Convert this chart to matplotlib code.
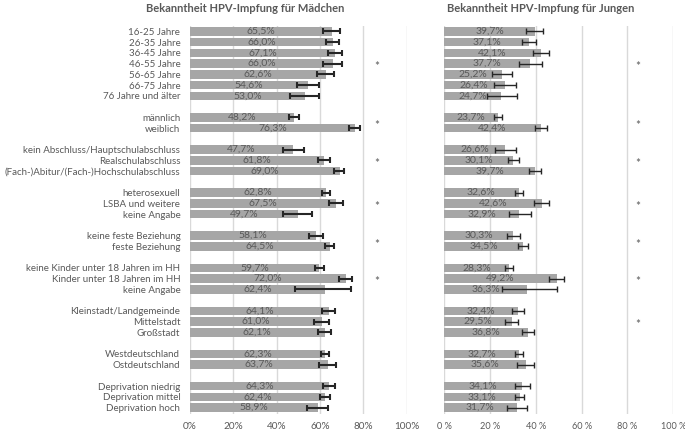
import matplotlib
matplotlib.use("Agg")
import matplotlib.pyplot as plt
import numpy as np

categories = [
    "16-25 Jahre", "26-35 Jahre", "36-45 Jahre", "46-55 Jahre", "56-65 Jahre", "66-75 Jahre", "76 Jahre und älter",
    "männlich", "weiblich",
    "kein Abschluss/Hauptschulabschluss", "Realschulabschluss", "(Fach-)Abitur/(Fach-)Hochschulabschluss",
    "heterosexuell", "LSBA und weitere", "keine Angabe",
    "keine feste Beziehung", "feste Beziehung",
    "keine Kinder unter 18 Jahren im HH", "Kinder unter 18 Jahren im HH", "keine Angabe",
    "Kleinstadt/Landgemeinde", "Mittelstadt", "Großstadt",
    "Westdeutschland", "Ostdeutschland",
    "Deprivation niedrig", "Deprivation mittel", "Deprivation hoch",
]
group_sizes = [7, 2, 3, 3, 2, 3, 3, 2, 3]

girls = [65.5, 66.0, 67.1, 66.0, 62.6, 54.6, 53.0,
         48.2, 76.3,
         47.7, 61.8, 69.0,
         62.8, 67.5, 49.7,
         58.1, 64.5,
         59.7, 72.0, 62.4,
         64.1, 61.0, 62.1,
         62.3, 63.7,
         64.3, 62.4, 58.9]
girls_lo = [61.5, 62.6, 63.8, 61.2, 58.5, 49.2, 46.1,
            45.7, 73.5,
            42.8, 59.2, 66.3,
            60.8, 64.3, 42.8,
            54.8, 62.3,
            57.5, 68.6, 48.5,
            61.1, 57.4, 59.2,
            60.3, 59.7,
            61.2, 60.0, 54.0]
girls_hi = [69.2, 68.9, 70.1, 70.3, 66.4, 59.7, 59.7,
            50.5, 78.6,
            52.6, 64.4, 71.2,
            64.6, 70.6, 56.3,
            61.2, 66.3,
            61.7, 74.9, 74.3,
            66.9, 64.3, 64.9,
            64.3, 67.5,
            67.1, 64.6, 63.5]

boys = [39.7, 37.1, 42.1, 37.7, 25.2, 26.4, 24.7,
        23.7, 42.4,
        26.6, 30.1, 39.7,
        32.6, 42.6, 32.9,
        30.3, 34.5,
        28.3, 49.2, 36.3,
        32.4, 29.5, 36.8,
        32.7, 35.6,
        34.1, 33.1, 31.7]
boys_lo = [35.9, 33.9, 38.6, 32.9, 21.1, 22.0, 18.9,
           21.8, 39.9,
           22.4, 27.7, 37.1,
           31.0, 39.4, 28.5,
           27.4, 32.4,
           26.6, 45.7, 25.2,
           29.8, 26.5, 33.9,
           30.9, 32.0,
           31.1, 30.9, 27.5]
boys_hi = [43.2, 40.3, 45.6, 42.6, 29.7, 31.4, 31.7,
           25.3, 45.1,
           31.4, 32.6, 42.4,
           34.4, 45.7, 37.8,
           33.3, 36.5,
           30.3, 52.5, 49.2,
           35.1, 32.4, 39.4,
           34.6, 39.4,
           37.3, 35.1, 36.1]

# significance markers: row position (fractional = between two rows of a group)
girls_sig = [3, 8.5, 12, 16, 19.5, 23]
boys_sig = [3, 8.5, 12, 16, 19.5, 23, 27]

titles = ["Bekanntheit HPV-Impfung für Mädchen", "Bekanntheit HPV-Impfung für Jungen"]
xticks = [0, 20, 40, 60, 80, 100]
xticklabels_left = ["0%", "20%", "40%", "60%", "80%", "100%"]
xticklabels_right = ["0 %", "20 %", "40 %", "60 %", "80 %", "100 %"]

# row positions with a blank row between groups
ypos = []
r = 0
for g in group_sizes:
    for i in range(g):
        ypos.append(r)
        r += 1
    r += 1
ypos = np.array(ypos)

W, H = 685, 430
fig = plt.figure(figsize=(W / 100, H / 100), dpi=100)
FONT = "Lato"
txt = "#595959"
barc = "#a6a6a6"
gridc = "#d9d9d9"

def make_ax(x0, x1, vals, lo, hi, sig, sigx, ticklabels, show_y, elw, tfs):
    ax = fig.add_axes([x0 / W, (H - 414) / H, (x1 - x0) / W, (414 - 26) / H])
    vals = np.array(vals); lo = np.array(lo); hi = np.array(hi)
    ax.set_xlim(0, 100)
    ax.set_ylim(ypos[-1] + 0.6, -0.5)
    for xt in xticks:
        ax.axvline(xt, color=gridc, lw=1.0, zorder=0)
    ax.barh(ypos, vals, height=0.8, color=barc, zorder=2)
    ax.errorbar(vals, ypos, xerr=[vals - lo, hi - vals], fmt="none",
                ecolor="#262626", elinewidth=elw, capsize=2.2, capthick=elw, zorder=3)
    for y, v in zip(ypos, vals):
        ax.text(v / 2, y, f"{v:.1f}%".replace(".", ","), ha="center", va="center",
                fontsize=7.5, color=txt, family=FONT, zorder=4)
    for s in sig:
        ax.text(sigx, s + 0.3, "*", ha="center", va="center", fontsize=8.5,
                color=txt, family=FONT, zorder=4)
    ax.set_xticks(xticks)
    ax.set_xticklabels(ticklabels, fontsize=tfs, color=txt, family=FONT)
    ax.tick_params(axis="both", length=0, pad=6)
    ax.set_yticks(ypos)
    if show_y:
        ax.set_yticklabels(categories, fontsize=7.0, color=txt, family=FONT)
        ax.tick_params(axis="y", pad=7)
    else:
        ax.set_yticklabels([])
    for sp in ax.spines.values():
        sp.set_visible(False)
    return ax

make_ax(190, 406.7, girls, girls_lo, girls_hi, girls_sig, 86.2, xticklabels_left, True, 1.5, 7.2)
make_ax(444, 673.3, boys, boys_lo, boys_hi, boys_sig, 84.4, xticklabels_right, False, 1.0, 6.6)

fig.text(245 / W, 1 - 9 / H, titles[0], ha="center", va="center", fontsize=8,
         fontweight="bold", color=txt, family=FONT)
fig.text(541 / W, 1 - 9 / H, titles[1], ha="center", va="center", fontsize=8,
         fontweight="bold", color=txt, family=FONT)

fig.savefig("out.png", dpi=100)
